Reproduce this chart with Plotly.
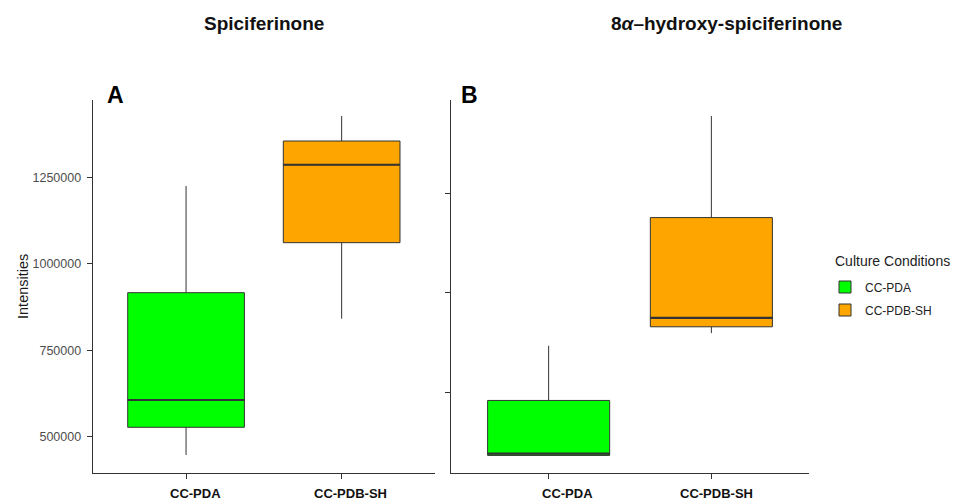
import plotly.graph_objects as go

# ---------------- data ----------------
categories = ["CC-PDA", "CC-PDB-SH"]
fill_colors = ["#00FF00", "#FFA500"]

# Panel A: Spiciferinone (box statistics)
a_lower = [448000, 841500]
a_q1 = [528000, 1061000]
a_median = [606800, 1286000]
a_q3 = [916600, 1354500]
a_upper = [1224600, 1426700]

# Panel B: 8α-hydroxy-spiciferinone (axis has no labels; values estimated)
b_lower = [340700, 648200]
b_q1 = [340700, 664100]
b_median = [345000, 686700]
b_q3 = [478900, 938700]
b_upper = [616300, 1194200]

y_ticks_a = [500000, 750000, 1000000, 1250000]
y_ticks_b = [500000, 750000, 1000000]

panel_titles = ["Spiciferinone", "8<i>α</i>–hydroxy-spiciferinone"]
panel_tags = ["A", "B"]
legend_title = "Culture Conditions"

# ---------------- style ----------------
FONT = "Liberation Sans, Arial, sans-serif"
BOX_WIDTH = 0.75
LINE_COL = "#333333"
OFF = 8                     # page body margin
W, H = 960 - OFF, 501 - OFF


def px(X):
    return (X - OFF) / W


def py(Y):
    return 1 - (Y - OFF) / H


panels = [
    dict(lower=a_lower, q1=a_q1, med=a_median, q3=a_q3, upper=a_upper,
         xa="x", ya="y"),
    dict(lower=b_lower, q1=b_q1, med=b_median, q3=b_q3, upper=b_upper,
         xa="x2", ya="y2"),
]

fig = go.Figure()
for p, pan in enumerate(panels):
    for i, cat in enumerate(categories):
        pos = i + 1
        fig.add_trace(go.Box(
            x=[pos], q1=[pan["q1"][i]], median=[pan["med"][i]], q3=[pan["q3"][i]],
            lowerfence=[pan["lower"][i]], upperfence=[pan["upper"][i]],
            width=BOX_WIDTH, whiskerwidth=0, boxpoints=False,
            fillcolor=fill_colors[i], line=dict(color=LINE_COL, width=1),
            name=cat, legendgroup=cat, showlegend=(p == 0),
            xaxis=pan["xa"], yaxis=pan["ya"], hoverinfo="skip",
        ))
        # thicker median line, as in ggplot
        fig.add_trace(go.Scatter(
            x=[pos - BOX_WIDTH / 2, pos + BOX_WIDTH / 2],
            y=[pan["med"][i], pan["med"][i]],
            mode="lines", line=dict(color=LINE_COL, width=2.2),
            showlegend=False, hoverinfo="skip",
            xaxis=pan["xa"], yaxis=pan["ya"],
        ))

y_dom = [py(472.7), py(100)]
axis_common = dict(showgrid=False, zeroline=False, showline=True,
                   linecolor=LINE_COL, linewidth=1, ticks="outside",
                   ticklen=5, tickcolor=LINE_COL)

fig.update_layout(
    width=W, height=H,
    margin=dict(l=0, r=0, t=0, b=0),
    paper_bgcolor="white", plot_bgcolor="white",
    font=dict(family=FONT, color="#1a1a1a"),
    xaxis=dict(domain=[px(92.7), px(435)], range=[0.4, 2.6], tickvals=[1, 2],
               showticklabels=False, anchor="y", **axis_common),
    yaxis=dict(domain=y_dom, range=[396900, 1472900], tickvals=y_ticks_a,
               ticktext=[str(v) for v in y_ticks_a],
               tickfont=dict(size=12.5, color="#4D4D4D"), ticklabelstandoff=3,
               title=dict(text="Intensities", font=dict(size=14.5, color="#1a1a1a"),
                          standoff=0),
               anchor="x", **axis_common),
    xaxis2=dict(domain=[px(451), px(809)], range=[0.4, 2.6], tickvals=[1, 2],
                showticklabels=False, anchor="y2", **axis_common),
    yaxis2=dict(domain=y_dom, range=[297200, 1234400], tickvals=y_ticks_b,
                showticklabels=False, anchor="x2", **axis_common),
    legend=dict(
        font=dict(size=12, color="#222222"),
        x=px(825), y=py(272.5), xanchor="left", yanchor="top",
        bgcolor="rgba(0,0,0,0)", tracegroupgap=4,
    ),
    showlegend=True,
)

fig.add_annotation(text=legend_title, xref="paper", yref="paper",
                   x=px(833), y=py(260.7), xanchor="left", yanchor="middle",
                   showarrow=False, font=dict(size=14, color="#222222"))

# panel titles and tags
title_x = [264, 726]
tag_x = [115.5, 469]
for p in range(2):
    fig.add_annotation(text="<b>" + panel_titles[p] + "</b>", xref="paper", yref="paper",
                       x=px(title_x[p]), y=py(23), xanchor="center", yanchor="middle",
                       showarrow=False, font=dict(size=19, color="#111111"))
    fig.add_annotation(text="<b>" + panel_tags[p] + "</b>", xref="paper", yref="paper",
                       x=px(tag_x[p]), y=py(95), xanchor="center", yanchor="middle",
                       showarrow=False, font=dict(size=23, color="#000000"))

# category labels under each panel (bold)
label_shift = [[9, 9], [19, 5]]
label_y = [493, 493.5]
for p, pan in enumerate(panels):
    for i, cat in enumerate(categories):
        fig.add_annotation(text="<b>" + cat + "</b>", xref=pan["xa"], yref="paper",
                           x=i + 1, y=py(label_y[p]), xshift=label_shift[p][i],
                           xanchor="center", yanchor="middle",
                           showarrow=False, font=dict(size=13, color="#111111"))

fig.write_html("out.html")
